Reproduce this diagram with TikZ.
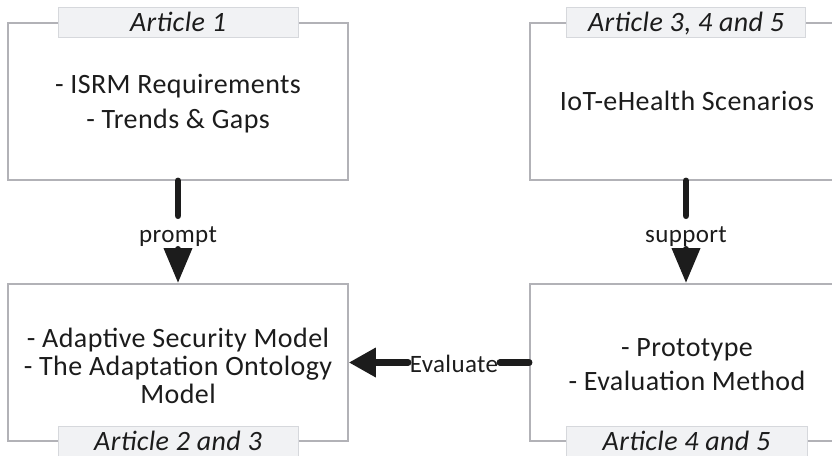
\documentclass[tikz,border=0pt]{standalone}
\usepackage{fontspec}
\setmainfont{Carlito}[LetterSpace=1.5]
\usetikzlibrary{arrows.meta}
\definecolor{boxgray}{RGB}{178,178,183}
\definecolor{titlefill}{RGB}{241,242,244}
\definecolor{titleedge}{RGB}{214,216,220}
\definecolor{ink}{RGB}{28,28,28}
\tikzset{
  frame/.style={draw=boxgray, line width=1.6pt, rectangle, minimum height=157pt, inner sep=0pt},
  bodytext/.style={anchor=base, inner sep=0pt, text=ink, font=\fontsize{28}{34}\selectfont},
  titlebox/.style={anchor=base, draw=titleedge, fill=titlefill, line width=1pt, rectangle, minimum width=240pt, inner xsep=0pt, inner ysep=0pt, text height=24pt, text depth=6pt, text=ink, font=\fontsize{28}{34}\selectfont\itshape},
  titleplate/.style={draw=titleedge, fill=titlefill, line width=1pt, rectangle, minimum width=240pt, minimum height=36pt, inner sep=0pt},
  titletext/.style={anchor=base, inner sep=0pt, text=ink, font=\fontsize{28}{34}\selectfont\itshape},
  arrline/.style={draw=ink, line width=6.5pt, line cap=round},
  arrv/.style={arrline, -{Triangle[length=35pt,width=27pt]}},
  arrh/.style={arrline, -{Triangle[length=27pt,width=28pt]}},
  lbl/.style={anchor=base, inner xsep=1.5pt, inner ysep=0pt, text height=26pt, text depth=7pt, text=ink, font=\fontsize{25}{30}\selectfont}
}
\begin{document}
\begin{tikzpicture}[x=1pt,y=-1pt]
\useasboundingbox (0,0) rectangle (832,455);
\clip (0,0) rectangle (832,455);
% frames
\node[frame, minimum width=340pt] (b1) at (178,101.5) {};
\node[frame, minimum width=316pt] (b2) at (688,101.5) {};
\node[frame, minimum width=340pt] (b3) at (178,362.5) {};
\node[frame, minimum width=316pt] (b4) at (688,362.5) {};
% frame texts
\node[bodytext] (b1l1) at (178,93) {- ISRM Requirements};
\node[bodytext] (b1l2) at (178,128) {- Trends \& Gaps};
\node[bodytext] (b2l1) at (687,110) {IoT-eHealth Scenarios};
\node[bodytext] (b3l1) at (178,347) {- Adaptive Security Model};
\node[bodytext] (b3l2) at (178,375) {- The Adaptation Ontology};
\node[bodytext] (b3l3) at (178,403) {Model};
\node[bodytext] (b4l1) at (687,356) {- Prototype};
\node[bodytext] (b4l2) at (687,390) {- Evaluation Method};
% titles
\node[titlebox] (t1) at (178,31.5) {Article 1};
\node[titlebox, minimum width=239pt] (t2) at (686,31.5) {Article 3, 4 and 5};
\node[titleplate] (t3) at (178,444) {};
\node[titleplate, minimum width=241pt] (t4) at (686.5,444) {};
\node[titletext] (t3t) at (178,450.5) {Article 2 and 3};
\node[titletext] (t4t) at (686.5,450) {Article 4 and 5};
% connectors
\node[lbl] (lp) at (178,242) {prompt};
\node[lbl] (ls) at (686,242) {support};
\node[lbl] (le) at (454,372) {Evaluate};
\draw[arrline] (b1.south) -- (lp.north);
\draw[arrv] (lp.south) -- (b3.north);
\draw[arrline] (b2.south -| ls.north) -- (ls.north);
\draw[arrv] (ls.south) -- (ls.south |- b4.north);
\draw[arrline] (b4.west) -- (le.east |- b4.west);
\draw[arrh] (le.west |- b3.east) -- (b3.east);
\end{tikzpicture}
\end{document}
